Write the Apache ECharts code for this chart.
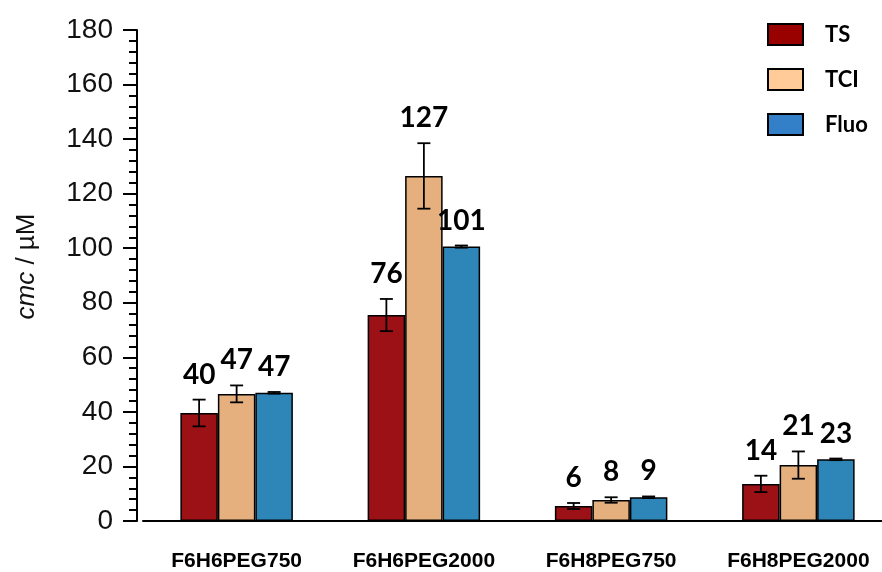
<!DOCTYPE html>
<html>
<head>
<meta charset="utf-8">
<script src="https://cdn.jsdelivr.net/npm/echarts@6/dist/echarts.min.js"></script>
<style>html,body{margin:0;padding:0;background:#fff}#c{width:882px;height:572px}</style>
</head>
<body>
<div id="c"></div>
<script>
var categories = ['F6H6PEG750', 'F6H6PEG2000', 'F6H8PEG750', 'F6H8PEG2000'];
var seriesNames = ['TS', 'TCI', 'Fluo'];
var tsValues = [39.6, 75.5, 5.5, 13.6];
var tciValues = [46.6, 126.5, 7.7, 20.5];
var fluoValues = [47.0, 100.6, 8.7, 22.6];
var tsErrors = [4.9, 5.9, 1.1, 3.0];
var tciErrors = [3.1, 12.0, 1.0, 5.0];
var fluoErrors = [0.3, 0.4, 0.3, 0.3];
var yTicks = [0, 20, 40, 60, 80, 100, 120, 140, 160, 180];

var barColors = ['#9B1115', '#E5B07E', '#2E86B8'];
var legendColors = ['#990000', '#FFCC99', '#3380C8'];
var BAR_W = 37.5;

var allValues = [tsValues, tciValues, fluoValues];
var allErrors = [tsErrors, tciErrors, fluoErrors];

var errData = [];
for (var s = 0; s < 3; s++) {
  for (var i = 0; i < categories.length; i++) {
    errData.push([i, s, allValues[s][i], allErrors[s][i]]);
  }
}

var chart = echarts.init(document.getElementById('c'));

var barSeries = seriesNames.map(function (name, s) {
  return {
    name: name,
    type: 'bar',
    data: allValues[s],
    barWidth: BAR_W,
    barGap: '0%',
    itemStyle: { color: barColors[s], borderColor: '#000', borderWidth: 1.5 },
    emphasis: { disabled: true },
    z: 2
  };
});

var errSeries = {
  type: 'custom',
  data: errData,
  z: 5,
  silent: true,
  encode: { x: 0, y: 2 },
  renderItem: function (params, api) {
    var cat = api.value(0), s = api.value(1), v = api.value(2), e = api.value(3);
    var base = api.coord([cat, v]);
    var cx = base[0] + (s - 1) * BAR_W;
    var yTop = api.coord([cat, v + e])[1];
    var yBot = api.coord([cat, v - e])[1];
    var cap = 6.5;
    var st = { stroke: '#000', lineWidth: 1.8 };
    return {
      type: 'group',
      children: [
        { type: 'line', shape: { x1: cx, y1: yTop, x2: cx, y2: yBot }, style: st },
        { type: 'line', shape: { x1: cx - cap, y1: yTop, x2: cx + cap, y2: yTop }, style: st },
        { type: 'line', shape: { x1: cx - cap, y1: yBot, x2: cx + cap, y2: yBot }, style: st },
        { type: 'text', x: cx, y: yTop - 11, style: {
            text: String(Math.round(v)), fill: '#000',
            font: 'bold 28px Lato, "Open Sans", sans-serif',
            align: 'center', verticalAlign: 'bottom' } }
      ]
    };
  }
};

chart.setOption({
  animation: false,
  backgroundColor: '#fff',
  grid: { left: 143, top: 30, height: 491, width: 749, containLabel: false, outerBoundsMode: 'none' },
  legend: {
    orient: 'vertical',
    left: 762,
    top: 18,
    itemWidth: 35,
    itemHeight: 21,
    itemGap: 22,
    selectedMode: false,
    data: seriesNames.map(function (n, s) {
      return { name: n, icon: 'rect', itemStyle: { color: legendColors[s], borderColor: '#000', borderWidth: 2 } };
    }),
    textStyle: { fontFamily: 'Lato, "Open Sans", sans-serif', fontWeight: 'bold', fontSize: 22, lineHeight: 21, color: '#000', padding: [0, 0, 0, 17] }
  },
  xAxis: {
    type: 'category',
    data: categories,
    boundaryGap: true,
    axisLine: { show: true, onZero: false, lineStyle: { color: '#000', width: 2 } },
    axisTick: { show: false },
    axisLabel: { fontFamily: '"Liberation Sans", Arial, sans-serif', fontWeight: 'bold', fontSize: 21, color: '#000', margin: 30 },
    splitLine: { show: false }
  },
  yAxis: {
    type: 'value',
    min: yTicks[0],
    max: yTicks[yTicks.length - 1],
    interval: yTicks[1] - yTicks[0],
    offset: 6,
    name: '{i|cmc} / µM',
    nameLocation: 'middle',
    nameRotate: 90,
    nameGap: 97,
    nameTextStyle: {
      fontFamily: '"Liberation Sans", Arial, sans-serif', fontSize: 26, color: '#111',
      padding: [0, 0, 0, 18],
      rich: { i: { fontFamily: '"Liberation Sans", Arial, sans-serif', fontSize: 26, fontStyle: 'italic', color: '#111' } }
    },
    axisLine: { show: true, lineStyle: { color: '#000', width: 2 } },
    axisTick: { show: true, inside: false, length: 14, lineStyle: { color: '#000', width: 2 } },
    minorTick: { show: true, splitNumber: 5, length: 8, lineStyle: { color: '#000', width: 2 } },
    axisLabel: { fontFamily: '"Liberation Sans", Arial, sans-serif', fontSize: 28, color: '#111', margin: 24 },
    splitLine: { show: false },
    minorSplitLine: { show: false }
  },
  series: barSeries.concat([errSeries])
});
</script>
</body>
</html>
